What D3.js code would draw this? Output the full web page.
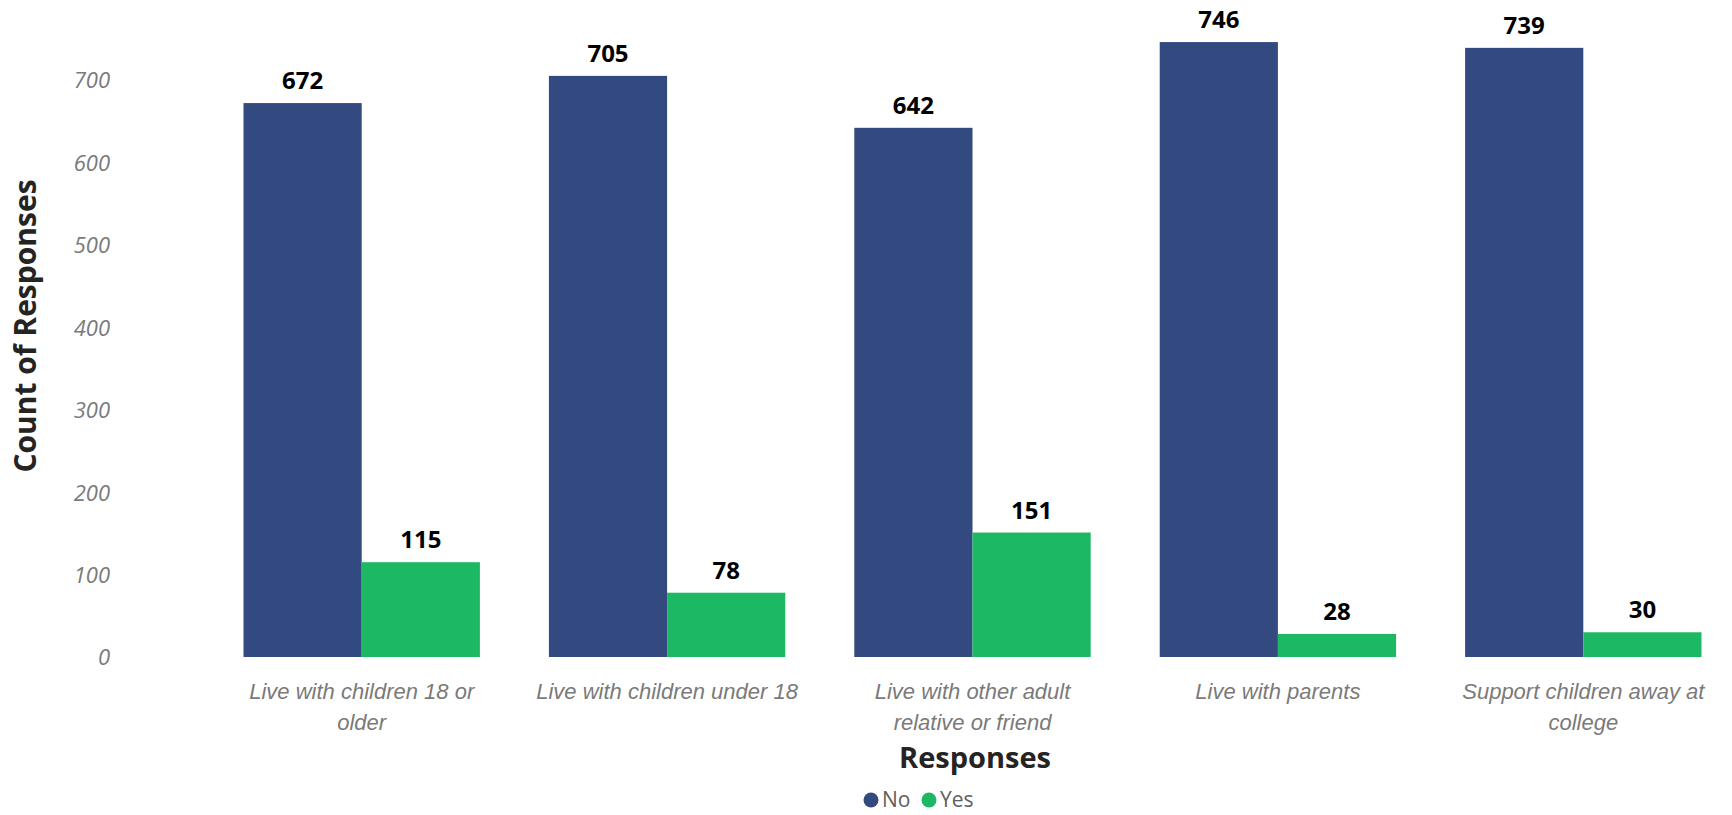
<!DOCTYPE html>
<html><head><meta charset="utf-8">
<script src="https://cdn.jsdelivr.net/npm/d3@7"></script>
<style>
html,body{margin:0;padding:0;background:#fff;}
svg{display:block;font-family:"Segoe UI","Open Sans","Noto Sans",sans-serif;}
</style></head>
<body>
<svg id="chart" width="1732" height="815"></svg>
<script>
const categories = [
  "Live with children 18 or older",
  "Live with children under 18",
  "Live with other adult relative or friend",
  "Live with parents",
  "Support children away at college"
];
const categoryLines = [
  ["Live with children 18 or", "older"],
  ["Live with children under 18"],
  ["Live with other adult", "relative or friend"],
  ["Live with parents"],
  ["Support children away at", "college"]
];
const seriesNames = ["No", "Yes"];
const noValues  = [672, 705, 642, 746, 739];
const yesValues = [115, 78, 151, 28, 30];
const yTicks = [0, 100, 200, 300, 400, 500, 600, 700];
const colors = ["#324a80", "#1db864"];

const svg = d3.select("#chart");
const x0 = d3.scaleBand().domain(categories).range([209, 1736]).paddingInner(0.226).paddingOuter(0.113);
const x1 = d3.scaleBand().domain(seriesNames).range([0, x0.bandwidth()]).padding(0);
const y = d3.scaleLinear().domain([0, 700]).range([657, 80]);
const color = d3.scaleOrdinal().domain(seriesNames).range(colors);

const data = categories.map((c, i) => ({cat: c, vals: [
  {s: "No", v: noValues[i]}, {s: "Yes", v: yesValues[i]}]}));

// y axis tick labels
const yAxis = d3.axisLeft(y).tickValues(yTicks).tickSize(0).tickPadding(0);
const yg = svg.append("g").attr("transform", "translate(110,0)").call(yAxis);
yg.select(".domain").remove();
yg.selectAll("text")
  .attr("font-size", 22).attr("font-style", "italic").attr("fill", "#7a7a7a")
  .attr("font-family", "'Segoe UI','Open Sans',sans-serif").attr("dy", "0.36em");

// bars
const groups = svg.append("g").selectAll("g").data(data).join("g")
  .attr("transform", d => `translate(${x0(d.cat)},0)`);
groups.selectAll("rect").data(d => d.vals).join("rect")
  .attr("x", d => x1(d.s)).attr("width", x1.bandwidth())
  .attr("y", d => y(d.v)).attr("height", d => y(0) - y(d.v))
  .attr("fill", d => color(d.s));
groups.selectAll("text").data(d => d.vals).join("text")
  .attr("x", d => x1(d.s) + x1.bandwidth() / 2)
  .attr("y", d => y(d.v) - 14)
  .attr("text-anchor", "middle").attr("font-size", 24).attr("font-weight", "bold")
  .attr("fill", "#000").text(d => d.v);

// x axis labels
const xAxis = d3.axisBottom(x0).tickSize(0).tickFormat("");
const xg = svg.append("g").attr("transform", "translate(0,657)").call(xAxis);
xg.select(".domain").remove();
xg.selectAll(".tick").each(function(d, i) {
  const t = d3.select(this).append("text")
    .attr("text-anchor", "middle").attr("font-size", 22).attr("font-style", "italic")
    .attr("fill", "#7a7a7a");
  categoryLines[i].forEach((ln, j) => {
    t.append("tspan").attr("x", 0).attr("y", 42 + j * 31).text(ln);
  });
});

// axis titles
svg.append("text").attr("transform", "translate(36,326) rotate(-90)")
  .attr("text-anchor", "middle").attr("font-size", 30).attr("font-weight", "bold")
  .attr("fill", "#252423").text("Count of Responses");
svg.append("text").attr("x", 975).attr("y", 768)
  .attr("text-anchor", "middle").attr("font-size", 29).attr("font-weight", "bold")
  .attr("fill", "#252423").text("Responses");

// legend
const legendX = [871, 929];
const lg = svg.append("g").selectAll("g").data(seriesNames).join("g")
  .attr("transform", (d, i) => `translate(${legendX[i]},800)`);
lg.append("circle").attr("r", 7.5).attr("fill", d => color(d));
lg.append("text").attr("x", 11).attr("y", 7).attr("font-size", 21)
  .attr("fill", "#605e5c").text(d => d);
</script>
</body></html>
